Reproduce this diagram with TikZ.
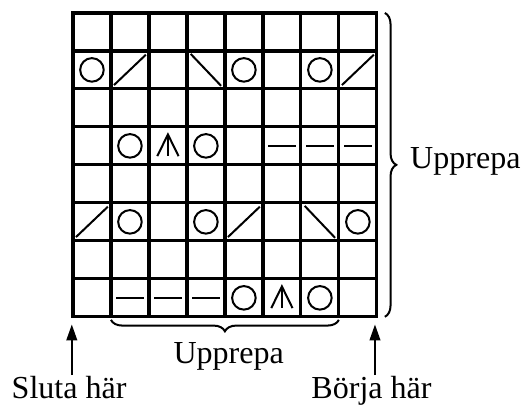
\documentclass[tikz,border=0pt]{standalone}
\usepackage{fontspec}
\setmainfont{Liberation Serif}
\usetikzlibrary{arrows.meta, decorations.pathreplacing, positioning}

\begin{document}
\begin{tikzpicture}[x=1cm, y=1cm, font=\fontsize{24}{28}\selectfont,
    stitch/.style={line width=1.5pt},
    repbrace/.style={decorate, decoration={brace, amplitude=0.3cm}, line width=1.5pt},
    marker/.style={-{Triangle[length=0.42cm, width=0.28cm]}, line width=1.5pt}]
\useasboundingbox (-1.92,-2.32) rectangle (11.82,8.34);

% chart
\draw[line width=2.4pt] (0,0) grid (8,8);
\draw[line width=2.4pt] (0,0) rectangle (8,8);

% yarn over
\foreach \c/\r in {1/2,5/2,7/2,2/4,4/4,2/6,4/6,8/6,5/8,7/8} {
    \draw[stitch] (\c-0.5,8.5-\r) circle (0.31);
}

% right leaning
\foreach \c/\r in {2/2,8/2,1/6,5/6} {
    \draw[stitch] (\c-0.92,8.1-\r) -- (\c-0.08,8.9-\r);
}

% left leaning
\foreach \c/\r in {4/2,7/6} {
    \draw[stitch] (\c-0.9,8.92-\r) -- (\c-0.1,8.08-\r);
}

% purl
\foreach \c/\r in {6/4,7/4,8/4,2/8,3/8,4/8} {
    \draw[stitch] (\c-0.86,8.5-\r) -- (\c-0.14,8.5-\r);
}

% double decrease
\foreach \c/\r in {3/4,6/8} {
    \draw[stitch] (\c-0.78,8.23-\r) -- (\c-0.5,8.8-\r) -- (\c-0.22,8.23-\r);
    \draw[stitch] (\c-0.5,8.8-\r) -- (\c-0.5,8.23-\r);
}

% repeats
\draw[repbrace] (8.21,8) -- (8.21,0);
\node[anchor=base west, inner sep=0pt] (repright) at (8.87,3.9) {Upprepa};

\draw[repbrace] (7,-0.08) -- (1,-0.08);
\node[anchor=base, inner sep=0pt] (repbottom) at (4.1,-1.24) {Upprepa};

% start and end
\node[anchor=base, inner sep=1pt] (sluta) at (-0.1,-2.16) {Sluta här};
\node[anchor=base, inner sep=1pt] (borja) at (7.86,-2.16) {Börja här};
\coordinate (endleft) at (-0.03,-0.2);
\coordinate (endright) at (7.95,-0.2);
\draw[marker] (sluta.north -| endleft) -- (endleft);
\draw[marker] (borja.north -| endright) -- (endright);
\end{tikzpicture}
\end{document}
